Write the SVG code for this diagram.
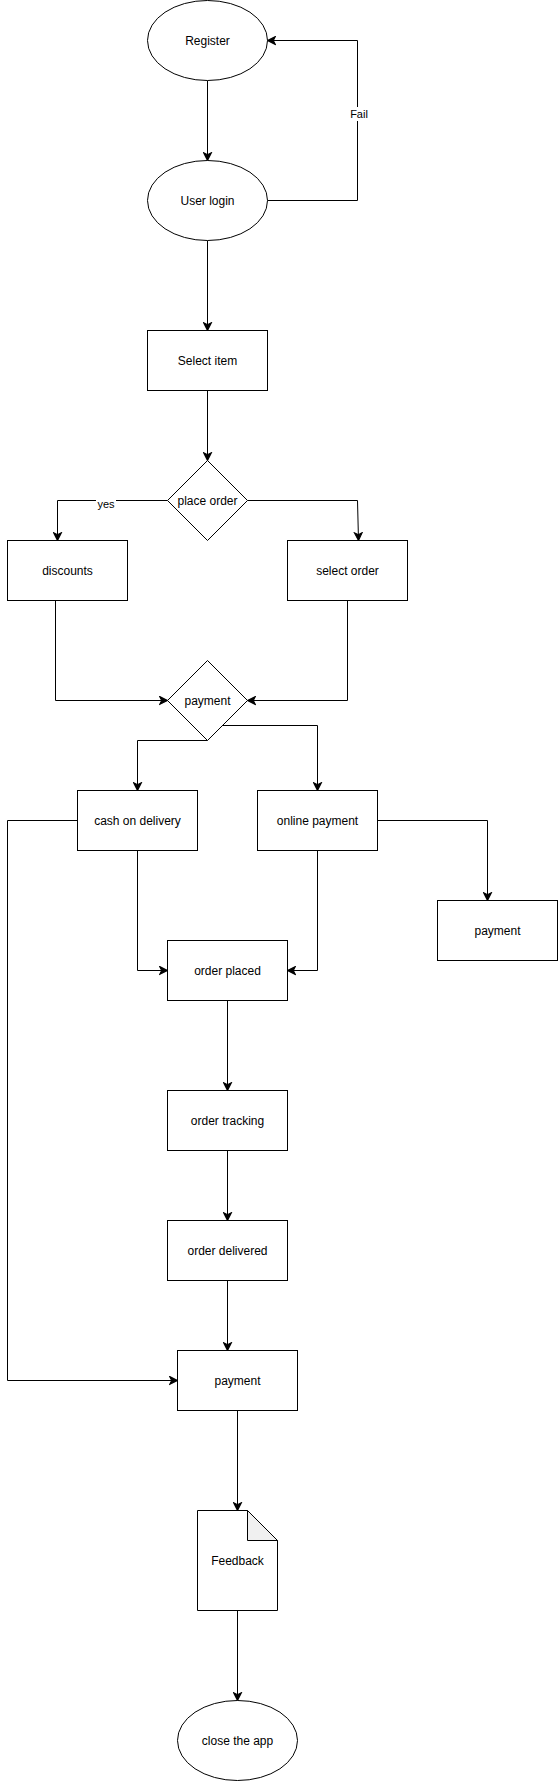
<svg xmlns="http://www.w3.org/2000/svg" width="558" height="1781" viewBox="0 0 558 1781">
<style>
.n{fill:#fff;stroke:#000;stroke-width:1}
.c{fill:none;stroke:#000;stroke-width:1}
.t{font-family:"Liberation Sans",Arial,sans-serif;font-size:12px;fill:#000;text-anchor:middle;dominant-baseline:central}
.l{font-family:"Liberation Sans",Arial,sans-serif;font-size:11px;fill:#000;text-anchor:middle;dominant-baseline:central}
</style>
<defs>
<marker id="ah" markerUnits="userSpaceOnUse" markerWidth="10" markerHeight="10" viewBox="-8 -4 9 8" refX="0" refY="0" orient="auto">
<path d="M-7,-3.5 L0,0 L-7,3.5 L-5.2,0 Z" fill="#000" stroke="#000" stroke-width="1"/>
</marker>
</defs>
<rect width="558" height="1781" fill="#fff"/>
<g id="connectors">
<path class="c" d="M207.5,80.5 V160.5" marker-end="url(#ah)"/>
<path class="c" d="M267.5,200.5 H357.5 V40.5 H267.5" marker-end="url(#ah)"/>
<path class="c" d="M207.5,240.5 V330.5" marker-end="url(#ah)"/>
<path class="c" d="M207.5,390.5 V460.5" marker-end="url(#ah)"/>
<path class="c" d="M167.5,500.5 H57.5 V540.5" marker-end="url(#ah)"/>
<path class="c" d="M247.5,500.5 H357.5 L358.5,540.5" marker-end="url(#ah)"/>
<path class="c" d="M55.5,600.5 V700.5 H167.5" marker-end="url(#ah)"/>
<path class="c" d="M347.5,600.5 V700.5 H247.5" marker-end="url(#ah)"/>
<path class="c" d="M207.5,740.5 H137.5 V790.5" marker-end="url(#ah)"/>
<path class="c" d="M222.5,725.5 H317.5 V790.5" marker-end="url(#ah)"/>
<path class="c" d="M77.5,820.5 H7.5 V1380.5 H177.5" marker-end="url(#ah)"/>
<path class="c" d="M137.5,850.5 V970.5 H167.5" marker-end="url(#ah)"/>
<path class="c" d="M317.5,850.5 V970.5 H287.5" marker-end="url(#ah)"/>
<path class="c" d="M377.5,820.5 H487.5 V900.5" marker-end="url(#ah)"/>
<path class="c" d="M227.5,1000.5 V1090.5" marker-end="url(#ah)"/>
<path class="c" d="M227.5,1150.5 V1220.5" marker-end="url(#ah)"/>
<path class="c" d="M227.5,1280.5 V1350.5" marker-end="url(#ah)"/>
<path class="c" d="M237.5,1410.5 V1510.5" marker-end="url(#ah)"/>
<path class="c" d="M237.5,1610.5 V1700.5" marker-end="url(#ah)"/>
<rect x="349" y="107" width="20" height="14" fill="#fff"/>
<text class="l" x="359" y="114">Fail</text>
<rect x="96" y="498" width="20" height="13" fill="#fff"/>
<text class="l" x="106" y="504">yes</text>
</g>
<g id="register"><ellipse class="n" cx="207.5" cy="40.5" rx="60" ry="40"/><text class="t" x="207.5" y="40.5">Register</text></g>
<g id="user-login"><ellipse class="n" cx="207.5" cy="200.5" rx="60" ry="40"/><text class="t" x="207.5" y="200.5">User login</text></g>
<g id="select-item"><rect class="n" x="147.5" y="330.5" width="120" height="60"/><text class="t" x="207.5" y="360.5">Select item</text></g>
<g id="place-order"><path class="n" d="M207.5,460.5 L247.5,500.5 L207.5,540.5 L167.5,500.5 Z"/><text class="t" x="207.5" y="500.5">place order</text></g>
<g id="discounts"><rect class="n" x="7.5" y="540.5" width="120" height="60"/><text class="t" x="67.5" y="570.5">discounts</text></g>
<g id="select-order"><rect class="n" x="287.5" y="540.5" width="120" height="60"/><text class="t" x="347.5" y="570.5">select order</text></g>
<g id="payment-decision"><path class="n" d="M207.5,660.5 L247.5,700.5 L207.5,740.5 L167.5,700.5 Z"/><text class="t" x="207.5" y="700.5">payment</text></g>
<g id="cash-on-delivery"><rect class="n" x="77.5" y="790.5" width="120" height="60"/><text class="t" x="137.5" y="820.5">cash on delivery</text></g>
<g id="online-payment"><rect class="n" x="257.5" y="790.5" width="120" height="60"/><text class="t" x="317.5" y="820.5">online payment</text></g>
<g id="payment-online"><rect class="n" x="437.5" y="900.5" width="120" height="60"/><text class="t" x="497.5" y="930.5">payment</text></g>
<g id="order-placed"><rect class="n" x="167.5" y="940.5" width="120" height="60"/><text class="t" x="227.5" y="970.5">order placed</text></g>
<g id="order-tracking"><rect class="n" x="167.5" y="1090.5" width="120" height="60"/><text class="t" x="227.5" y="1120.5">order tracking</text></g>
<g id="order-delivered"><rect class="n" x="167.5" y="1220.5" width="120" height="60"/><text class="t" x="227.5" y="1250.5">order delivered</text></g>
<g id="payment-final"><rect class="n" x="177.5" y="1350.5" width="120" height="60"/><text class="t" x="237.5" y="1380.5">payment</text></g>
<g id="feedback">
<path class="n" d="M197.5,1510.5 H247.5 L277.5,1540.5 V1610.5 H197.5 Z"/>
<path d="M247.5,1510.5 V1540.5 H277.5 Z" fill="#f0f0f0" stroke="#000" stroke-width="1" stroke-linejoin="round"/>
<text class="t" x="237.5" y="1560.5">Feedback</text>
</g>
<g id="close-app"><ellipse class="n" cx="237.5" cy="1740.5" rx="60" ry="40"/><text class="t" x="237.5" y="1740.5">close the app</text></g>
</svg>
